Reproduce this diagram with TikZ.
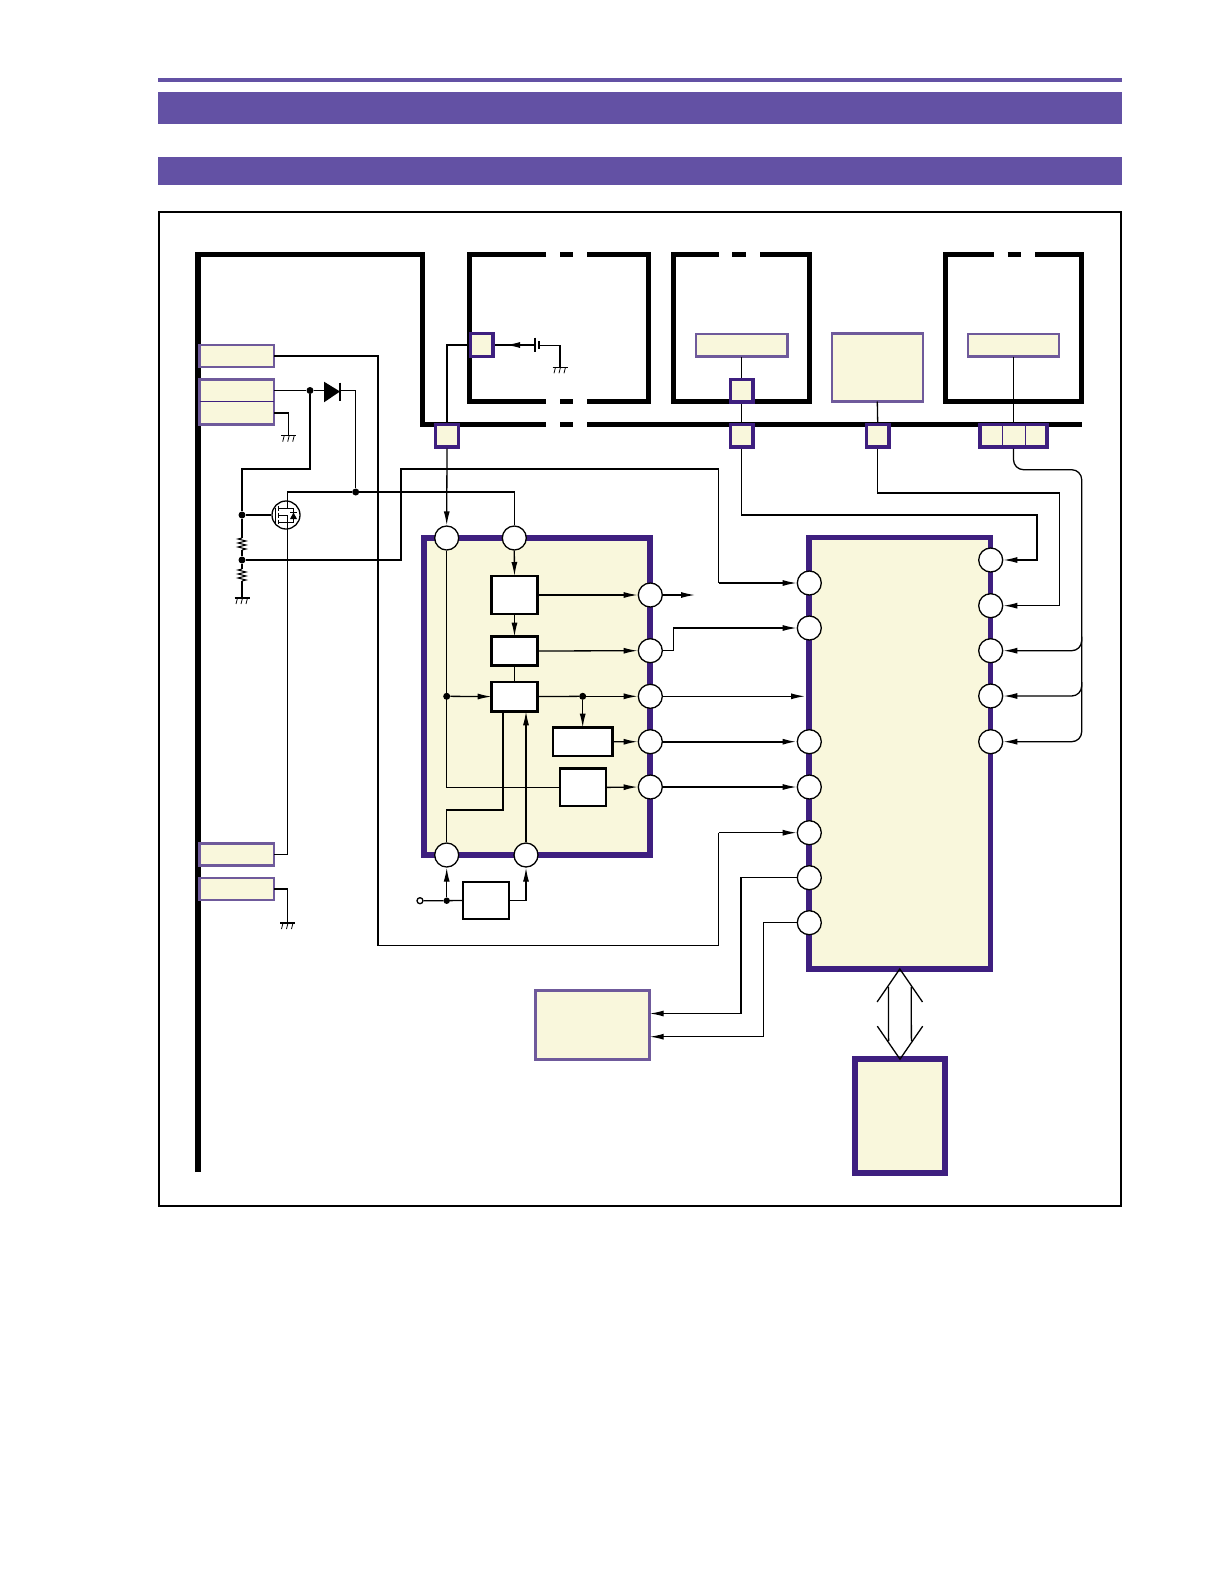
\documentclass[tikz,border=0pt]{standalone}
\usepackage{tikz}
\usetikzlibrary{calc}
\usetikzlibrary{arrows.meta}

\definecolor{bandcol}{HTML}{6351A4}
\definecolor{palecol}{HTML}{F9F7DC}
\definecolor{darkcol}{HTML}{3E1F7F}
\definecolor{lightcol}{HTML}{6F5A9B}

\tikzset{
    wire/.style={line width=1.3pt},
    sig/.style={wire,-{Latex[length=14pt,width=6pt]}},
    bus/.style={line width=5.5pt},
    ic/.style={rectangle,draw=darkcol,fill=palecol,line width=5.4pt,inner sep=0pt,outer sep=0pt},
    pinbox/.style={rectangle,draw=darkcol,fill=palecol,line width=3.2pt,inner sep=0pt,minimum width=22.5pt,minimum height=22.5pt},
    lightbox/.style={rectangle,draw=lightcol,fill=palecol,line width=2.6pt,inner sep=0pt,outer sep=0pt},
    block/.style={rectangle,draw=black,fill=white,line width=2.8pt,inner sep=0pt,outer sep=0pt},
    port/.style={circle,draw=black,fill=white,line width=1.3pt,inner sep=0pt,minimum size=24pt},
    dot/.style={circle,fill=black,inner sep=0pt,minimum size=7pt},
    gnd/.pic={
        \draw[wire] (-7.5,0) -- (7.5,0);
        \draw[line width=.8pt] (-4.5,0) -- (-6,6) (.5,0) -- (-1,6) (5.5,0) -- (4,6);
    },
    rzig/.pic={
        \draw[line width=1pt] (0,-6) -- (-4,-5) -- (4,-3) -- (-4,-1) -- (4,1) -- (-4,3) -- (4,5) -- (0,6);
    }
}

\begin{document}
\begin{tikzpicture}[x=1pt,y=-1pt]
        \useasboundingbox (0,0) rectangle (1224,1588);

        % header
        \fill[bandcol] (158,78) rectangle (1122,82);
        \fill[bandcol] (158,92) rectangle (1122,123.5);
        \fill[bandcol] (158,157) rectangle (1122,185);
        \draw[line width=1.6pt] (159,212) rectangle (1121,1206);

        % thick outlines
        \draw[bus] (198,1172) -- (198,254.7) -- (422.7,254.7) -- (422.7,424.3) -- (546,424.3);
        \draw[bus] (560,424.3) -- (573,424.3);
        \draw[bus] (587,424.3) -- (1081.7,424.3);
        \draw[bus] (546,254.7) -- (469.3,254.7) -- (469.3,401.7) -- (546,401.7);
        \draw[bus] (560,254.7) -- (573,254.7) (560,401.7) -- (573,401.7);
        \draw[bus] (587,254.7) -- (648.7,254.7) -- (648.7,401.7) -- (587,401.7);
        \draw[bus] (718.7,254.7) -- (673.3,254.7) -- (673.3,401.7) -- (809.7,401.7) -- (809.7,254.7) -- (760,254.7);
        \draw[bus] (732.3,254.7) -- (746,254.7);
        \draw[bus] (993.7,254.7) -- (945.3,254.7) -- (945.3,401.7) -- (1081.7,401.7) -- (1081.7,254.7) -- (1035,254.7);
        \draw[bus] (1007.7,254.7) -- (1021,254.7);

        % big blocks
        \node[ic,minimum width=226pt,minimum height=317pt] (dcdc) at (537,696.5) {};
        \node[ic,minimum width=181.7pt,minimum height=431.3pt] (main) at (899.8,753.3) {};
        \node[ic,minimum width=90.3pt,minimum height=113.7pt] (mem) at (900,1116) {};

        % boxes on the left edge
        \node[lightbox,minimum width=74.5pt,minimum height=22pt] (lbA) at (236.8,356) {};
        \node[lightbox,minimum width=74.5pt,minimum height=22pt] (lbB) at (236.8,390.5) {};
        \node[lightbox,minimum width=74.5pt,minimum height=23pt] (lbC) at (236.8,413) {};
        \node[lightbox,minimum width=74.5pt,minimum height=22pt] (lbD) at (236.8,854.5) {};
        \node[lightbox,minimum width=74.5pt,minimum height=22pt] (lbE) at (236.8,889) {};
        \fill[palecol] ($(lbB.south west)+(1.3,-1.3)$) rectangle ($(lbC.north east)+(-1.3,1.3)$);
        \draw[darkcol,line width=.9pt] (lbC.north west) -- (lbC.north east);

        % other light boxes
        \node[lightbox,minimum width=91.3pt,minimum height=22.7pt] (lbF) at (741.7,345.3) {};
        \node[lightbox,minimum width=91pt,minimum height=68pt] (lbG) at (877.3,367.5) {};
        \node[lightbox,minimum width=91pt,minimum height=22.7pt] (lbH) at (1013.5,345.3) {};
        \node[lightbox,line width=3pt,minimum width=114pt,minimum height=69pt] (lbI) at (592.7,1025) {};

        % connector pins
        \node[pinbox] (pA) at (481.7,345) {};
        \node[pinbox] (pB) at (447,435.7) {};
        \node[pinbox] (pC) at (741.7,390.7) {};
        \node[pinbox] (pD) at (741.7,435.7) {};
        \node[pinbox] (pE) at (877.7,435.7) {};
        \node[pinbox,minimum width=67pt] (pF) at (1013.5,435.7) {};
        \draw[darkcol,line width=.9pt] ($(pF.north)+(-11,0)$) -- ($(pF.south)+(-11,0)$);
        \draw[darkcol,line width=.9pt] ($(pF.north)+(11.5,0)$) -- ($(pF.south)+(11.5,0)$);

        % inner blocks
        \node[block,minimum width=45.6pt,minimum height=38pt] (bA) at (514.5,595) {};
        \node[block,minimum width=45.6pt,minimum height=28.6pt] (bB) at (514.5,651) {};
        \node[block,minimum width=45.6pt,minimum height=29.3pt] (bC) at (514.5,696.6) {};
        \node[block,minimum width=59.3pt,minimum height=28.3pt] (bD) at (582.7,741.8) {};
        \node[block,minimum width=46pt,minimum height=37.3pt] (bE) at (583,787.4) {};
        \node[block,line width=2.2pt,minimum width=46.6pt,minimum height=37.3pt] (bF) at (486,900.4) {};

        % round ports
        \node[port] (c1) at (446.7,538) {};
        \node[port] (c2) at (514.3,538) {};
        \node[port] (c3) at (650.3,595) {};
        \node[port] (c4) at (650.3,650.7) {};
        \node[port] (c5) at (650.3,696.3) {};
        \node[port] (c6) at (650.3,741.7) {};
        \node[port] (c7) at (650.3,787) {};
        \node[port] (c8) at (446.7,855) {};
        \node[port] (c9) at (526,855) {};

        \node[port] (m1) at (809.3,583) {};
        \node[port] (m2) at (809.3,628) {};
        \node[port] (m3) at (809.3,741.7) {};
        \node[port] (m4) at (809.3,787) {};
        \node[port] (m5) at (809.3,832.7) {};
        \node[port] (m6) at (809.3,877.7) {};
        \node[port] (m7) at (809.3,922.7) {};
        \node[port] (n1) at (990.7,560) {};
        \node[port] (n2) at (990.7,605.7) {};
        \node[port] (n3) at (990.7,650.7) {};
        \node[port] (n4) at (990.7,696) {};
        \node[port] (n5) at (990.7,741.7) {};

        % junctions
        \node[dot] (d1) at (310,390.5) {};
        \node[dot] (d2) at (242,515) {};
        \node[dot] (d3) at (242,560) {};
        \node[dot] (d4) at (355.7,492) {};
        \node[dot] (d5) at (446.7,696.3) {};
        \node[dot] (d6) at (582.7,696.3) {};
        \node[dot,minimum size=6.5pt] (d7) at (446.7,900.7) {};
        \node[circle,draw,fill=white,wire,inner sep=0pt,minimum size=6pt] (o1) at (420,900.7) {};

        % free ends and bends
        \coordinate (kbat) at (535,345);
        \coordinate (ktip) at (506,345);
        \coordinate (kbg) at (560,345.3);
        \coordinate (g1) at (560,367.3);
        \coordinate (g2) at (288.7,435.7);
        \coordinate (g3) at (242,598);
        \coordinate (g4) at (287.5,923);
        \coordinate (da) at (324,390.5);
        \coordinate (dk) at (340,390.5);
        \coordinate (qd) at (287.5,501);
        \coordinate (qs) at (287.5,529);
        \coordinate (kout) at (695,595);
        \coordinate (kin) at (805,696.3);
        \coordinate (r1) at (242,544);
        \coordinate (r2) at (242,575);
        \coordinate (k1) at (242,469);
        \coordinate (k2) at (401,469);
        \coordinate (k3) at (718.5,583);
        \coordinate (k4) at (378,945.6);
        \coordinate (k5) at (718.5,832.7);
        \coordinate (k6) at (673.3,628);
        \coordinate (k7) at (503,810);
        \coordinate (k8) at (741,1013.5);
        \coordinate (k9) at (763.7,1036.7);
        \coordinate (k10) at (1037,515);
        \coordinate (k11) at (1059.3,493);
        \coordinate (k12) at (1081.7,469.7);

        % left side wiring
        \draw[wire] (lbA.east) -| (k4) -| (k5);
        \draw[sig] (k5) -- (m5.west);
        \draw[wire] (lbB.east) -- (d1) -- (da);
        \fill (324,381.7) -- (324,402.3) -- (340,391.5) -- cycle;
        \draw[line width=2pt] (340,382.7) -- (340,400.7);
        \draw[wire] (dk) -| (d4);
        \draw[wire] (lbC.east) -| (g2);
        \pic at (g2) {gnd};
        \draw[wire] (d1) |- (k1) -- (d2);
        \draw[wire] (d2) -- ($(r1)+(0,-6)$);
        \pic at (r1) {rzig};
        \draw[wire] ($(r1)+(0,6)$) -- (d3);
        \draw[wire] (d3) -- ($(r2)+(0,-6)$);
        \pic at (r2) {rzig};
        \draw[wire] ($(r2)+(0,6)$) -- (g3);
        \pic at (g3) {gnd};
        \draw[wire] (d3) -| (k2) -| (k3);
        \draw[sig] (k3) -- (m1.west);

        % transistor
        \node[circle,draw,fill=white,wire,inner sep=0pt,minimum size=28pt] (q1) at (286,515) {};
        \draw[wire] (d2) -- (q1);
        \draw[wire] (qd) |- (d4);
        \draw[wire] (d4) -| (c2.north);
        \draw[wire] (qs) |- (lbD.east);
        \draw[line width=.9pt] (275,507.5) -- (275,522.5);
        \draw[line width=1.2pt] (278.5,506) -- (278.5,510.5) (278.5,512.5) -- (278.5,517.5) (278.5,519.5) -- (278.5,524);
        \draw[line width=.9pt] (278.5,508) -- (287.5,508) -- (qd) (278.5,522) -- (287.5,522) -- (qs);
        \draw[line width=.9pt] (287.5,522) -- (287.5,515) -- (278.5,515);
        \draw[line width=.9pt] (287.5,508) -- (293.5,508) -- (293.5,522) -- (287.5,522);
        \fill (290,519) -- (297,519) -- (293.5,512.5) -- cycle;
        \draw[line width=.9pt] (290,512.5) -- (297,512.5);
        \draw[wire] (lbE.east) -| (g4);
        \pic at (g4) {gnd};

        % battery
        \draw[wire] (kbat) -- (pA.east);
        \draw[sig] (kbat) -- (ktip);
        \draw[wire] (535,337.7) -- (535,352.3);
        \draw[line width=2pt] (538.5,341) -- (538.5,349);
        \draw[wire] (538.5,345.3) -- (kbg) -- (g1);
        \pic at (g1) {gnd};

        % top connectors
        \draw[wire] (pA.west) -| (pB.north);
        \draw[sig] (pB.south) -- (c1.north);
        \draw[wire] (lbF.south) -- (pC.north);
        \draw[wire] (pC.south) -- (pD.north);
        \draw[wire] (lbG.south) -- (pE.north);
        \draw[wire] (lbH.south) -- (pF.north);
        \draw[sig] (pD.south) |- (k10) |- (n1.east);
        \draw[sig] (pE.south) |- (k11) |- (n2.east);
        \draw[sig,rounded corners=10pt] (pF.south) |- (k12) |- (n5.east);
        \draw[sig,rounded corners=10pt] ($(k12 |- n3.east)+(0,-14)$) |- (n3.east);
        \draw[sig,rounded corners=10pt] ($(k12 |- n4.east)+(0,-14)$) |- (n4.east);

        % inside the regulator
        \draw[sig] (c2.south) -- (bA.north);
        \draw[sig] (bA.south) -- (bB.north);
        \draw[wire] (bB.south) -- (bC.north);
        \draw[sig] (bA.east |- c3.west) -- (c3.west);
        \draw[sig] (bB.east) -- (c4.west);
        \draw[wire] (bC.east) -- (d6);
        \draw[sig] (d6) -- (c5.west);
        \draw[sig] (d6) -- (bD.north);
        \draw[sig] (bD.east) -- (c6.west);
        \draw[sig] (bE.east) -- (c7.west);
        \draw[wire] (c1.south) |- (bE.west);
        \draw[sig] (d5) -- (bC.west);
        \draw[wire] (k7 |- bC.south) -- (k7) -| (c8.north);
        \draw[sig] (c9.north) -- (c9.north |- bC.south);
        \draw[wire] (o1) -- (d7) -- (bF.west);
        \draw[sig] (d7) -- (c8.south);
        \draw[sig] (bF.east) -| (c9.south);

        % regulator to main block
        \draw[sig] (c3.east) -- (kout);
        \draw[wire] (c4.east) -| (k6);
        \draw[sig] (k6) -- (m2.west);
        \draw[sig] (c5.east) -- (kin);
        \draw[sig,line width=1.8pt] (c6.east) -- (m3.west);
        \draw[sig] (c7.east) -- (m4.west);
        \draw[sig] (m6.west) -| (k8) -- (lbI.east |- k8);
        \draw[sig] (m7.west) -| (k9) -- (lbI.east |- k9);

        % wide arrow between main block and memory
        \draw[wire] ($(main.south)+(-22.7,33)$) -- (main.south) -- ($(main.south)+(22.7,33)$);
        \draw[wire] ($(mem.north)+(-22.7,-33)$) -- (mem.north) -- ($(mem.north)+(22.7,-33)$);
        \draw[wire] ($(main.south)+(-11.4,18)$) -- ($(mem.north)+(-11.4,-18)$);
        \draw[wire] ($(main.south)+(11.4,18)$) -- ($(mem.north)+(11.4,-18)$);
\end{tikzpicture}
\end{document}
